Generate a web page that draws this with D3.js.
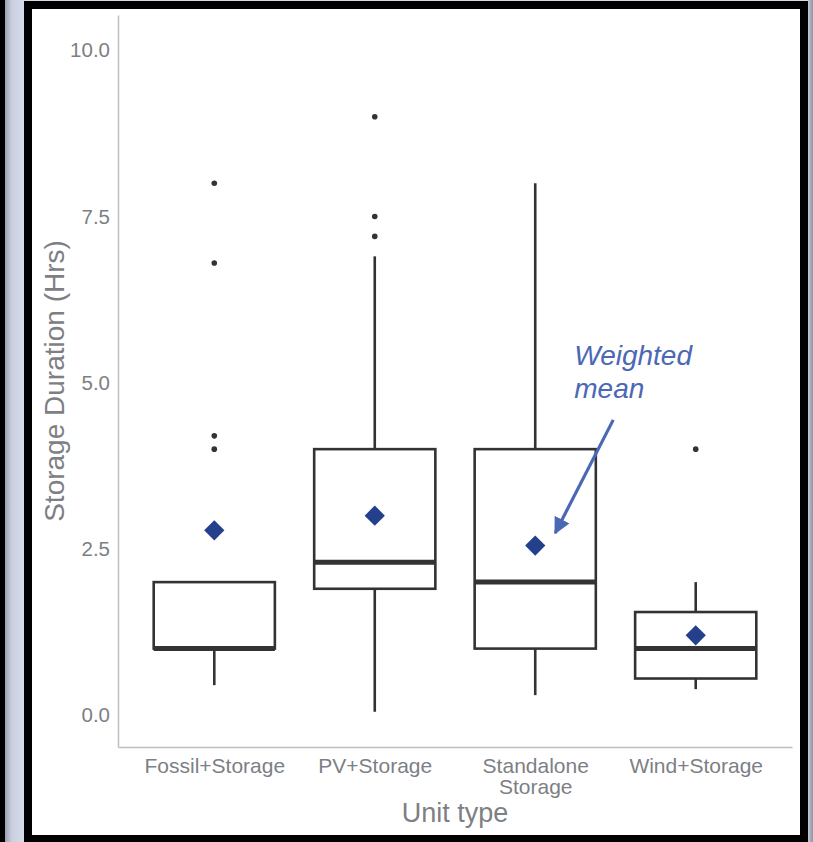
<!DOCTYPE html>
<html>
<head>
<meta charset="utf-8">
<script src="https://cdn.jsdelivr.net/npm/d3@7"></script>
<style>
  html, body { margin: 0; padding: 0; background: #fff; }
  svg { display: block; }
  text { font-family: "Liberation Sans", Arial, sans-serif; }
</style>
</head>
<body>
<svg id="chart" width="813" height="842"></svg>
<script>
// ---- data ----
const categories = ["Fossil+Storage", "PV+Storage", "Standalone\nStorage", "Wind+Storage"];
const lowerWhisker = [0.45, 0.05, 0.3, 0.39];
const q1 = [1.0, 1.9, 1.0, 0.55];
const median = [1.0, 2.3, 2.0, 1.0];
const q3 = [2.0, 4.0, 4.0, 1.55];
const upperWhisker = [2.0, 6.9, 8.0, 2.0];
const weightedMean = [2.78, 3.0, 2.55, 1.2];
const outliers = [[8.0, 6.8, 4.2, 4.0], [9.0, 7.5, 7.2], [], [4.0]];
const yTicks = [0, 2.5, 5, 7.5, 10];
const yTickLabels = ["0.0", "2.5", "5.0", "7.5", "10.0"];
const xTitle = "Unit type";
const yTitle = "Storage Duration (Hrs)";
const annotationLines = ["Weighted", "mean"];

const svg = d3.select("#chart");
const W = 813, H = 842;

// ---- window frame ----
const defs = svg.append("defs");
const gl = defs.append("linearGradient").attr("id", "leftg").attr("x1", "0").attr("x2", "1");
gl.append("stop").attr("offset", "0").attr("stop-color", "#9a9fb0");
gl.append("stop").attr("offset", "0.35").attr("stop-color", "#c9cfe0");
gl.append("stop").attr("offset", "1").attr("stop-color", "#d7dcea");
const gr = defs.append("linearGradient").attr("id", "rightg").attr("x1", "0").attr("x2", "1");
gr.append("stop").attr("offset", "0").attr("stop-color", "#c4c8d4");
gr.append("stop").attr("offset", "1").attr("stop-color", "#8e93a3");

svg.append("rect").attr("x", 0).attr("y", 0).attr("width", W).attr("height", H).attr("fill", "#d5dae8");
svg.append("rect").attr("x", 0).attr("y", 0).attr("width", 5).attr("height", H).attr("fill", "#000");
svg.append("rect").attr("x", 5).attr("y", 0).attr("width", 19).attr("height", H).attr("fill", "url(#leftg)");
svg.append("rect").attr("x", 808).attr("y", 0).attr("width", 5).attr("height", H).attr("fill", "url(#rightg)");
svg.append("rect").attr("x", 24).attr("y", 1).attr("width", 784).attr("height", H - 1).attr("fill", "#000");
svg.append("rect").attr("x", 32).attr("y", 9).attr("width", 768).attr("height", 826).attr("fill", "#fff");

// ---- scales ----
const plot = { left: 118, right: 792, top: 15, bottom: 747 };
const y = d3.scaleLinear().domain([-0.48, 10.53]).range([plot.bottom, plot.top]);
const x = d3.scalePoint().domain(categories).range([plot.left, plot.right]).padding(0.6);
const boxW = x.step() * 0.755;

const textGray = "#7d7f85";
const axisGray = "#bfbfbf";
const ink = "#333333";

// ---- axes ----
const yAxis = d3.axisLeft(y).tickValues(yTicks).tickSize(0).tickPadding(8)
  .tickFormat((d, i) => yTickLabels[i]);
const gy = svg.append("g").attr("transform", `translate(${plot.left},0)`).call(yAxis);
gy.select(".domain").attr("stroke", axisGray).attr("stroke-width", 1.5);
gy.selectAll(".tick text").attr("font-size", 20.5).attr("fill", textGray)
  .attr("font-family", "'Liberation Sans', Arial, sans-serif");

const xAxis = d3.axisBottom(x).tickSize(0).tickPadding(0);
const gx = svg.append("g").attr("transform", `translate(0,${plot.bottom})`).call(xAxis);
gx.select(".domain").attr("stroke", axisGray).attr("stroke-width", 1.5);
gx.selectAll(".tick text").each(function(d) {
  const t = d3.select(this);
  t.text(null).attr("font-size", 21).attr("fill", textGray).attr("dy", null).attr("y", 0)
    .attr("font-family", "'Liberation Sans', Arial, sans-serif");
  d.split("\n").forEach((line, i) => {
    t.append("tspan").attr("x", 0).attr("y", 26 + i * 21).text(line);
  });
});

// ---- boxplots ----
const g = svg.append("g");
categories.forEach((c, i) => {
  const cx = x(c);
  // whiskers
  g.append("line").attr("x1", cx).attr("x2", cx)
    .attr("y1", y(q3[i])).attr("y2", y(upperWhisker[i]))
    .attr("stroke", ink).attr("stroke-width", 2.6);
  g.append("line").attr("x1", cx).attr("x2", cx)
    .attr("y1", y(q1[i])).attr("y2", y(lowerWhisker[i]))
    .attr("stroke", ink).attr("stroke-width", 2.6);
  // box
  g.append("rect").attr("x", cx - boxW / 2).attr("width", boxW)
    .attr("y", y(q3[i])).attr("height", y(q1[i]) - y(q3[i]))
    .attr("fill", "#fff").attr("stroke", ink).attr("stroke-width", 2.6);
  // median
  g.append("line").attr("x1", cx - boxW / 2).attr("x2", cx + boxW / 2)
    .attr("y1", y(median[i])).attr("y2", y(median[i]))
    .attr("stroke", ink).attr("stroke-width", 5);
  // outliers
  outliers[i].forEach(v => {
    g.append("circle").attr("cx", cx).attr("cy", y(v)).attr("r", 2.8).attr("fill", ink);
  });
  // weighted mean diamond
  g.append("path").attr("d", d3.symbol().type(d3.symbolSquare).size(205)())
    .attr("transform", `translate(${cx},${y(weightedMean[i])}) rotate(45)`)
    .attr("fill", "#243f8c");
});

// ---- annotation ----
const annColor = "#4b68b4";
const sc = x(categories[2]);
const ann = svg.append("g");
annotationLines.forEach((t, i) => {
  ann.append("text").attr("x", sc + 39).attr("y", y(5.27) + i * 33)
    .attr("font-size", 28).attr("font-style", "italic").attr("fill", annColor).text(t);
});
defs.append("marker").attr("id", "arrow").attr("viewBox", "0 0 10 10")
  .attr("refX", 9).attr("refY", 5).attr("markerWidth", 5.2).attr("markerHeight", 5.2)
  .attr("markerUnits", "strokeWidth").attr("orient", "auto")
  .append("path").attr("d", "M0,0 L10,5 L0,10 z").attr("fill", annColor);
ann.append("line")
  .attr("x1", sc + 78).attr("y1", y(4.44))
  .attr("x2", sc + 20).attr("y2", y(2.74))
  .attr("stroke", annColor).attr("stroke-width", 3.2)
  .attr("marker-end", "url(#arrow)");

// ---- axis titles ----
svg.append("text").attr("x", (plot.left + plot.right) / 2).attr("y", 822)
  .attr("text-anchor", "middle").attr("font-size", 27).attr("fill", textGray).text(xTitle);
svg.append("text").attr("transform", `translate(64,${(plot.top + plot.bottom) / 2}) rotate(-90)`)
  .attr("text-anchor", "middle").attr("font-size", 28).attr("fill", textGray).text(yTitle);
</script>
</body>
</html>
